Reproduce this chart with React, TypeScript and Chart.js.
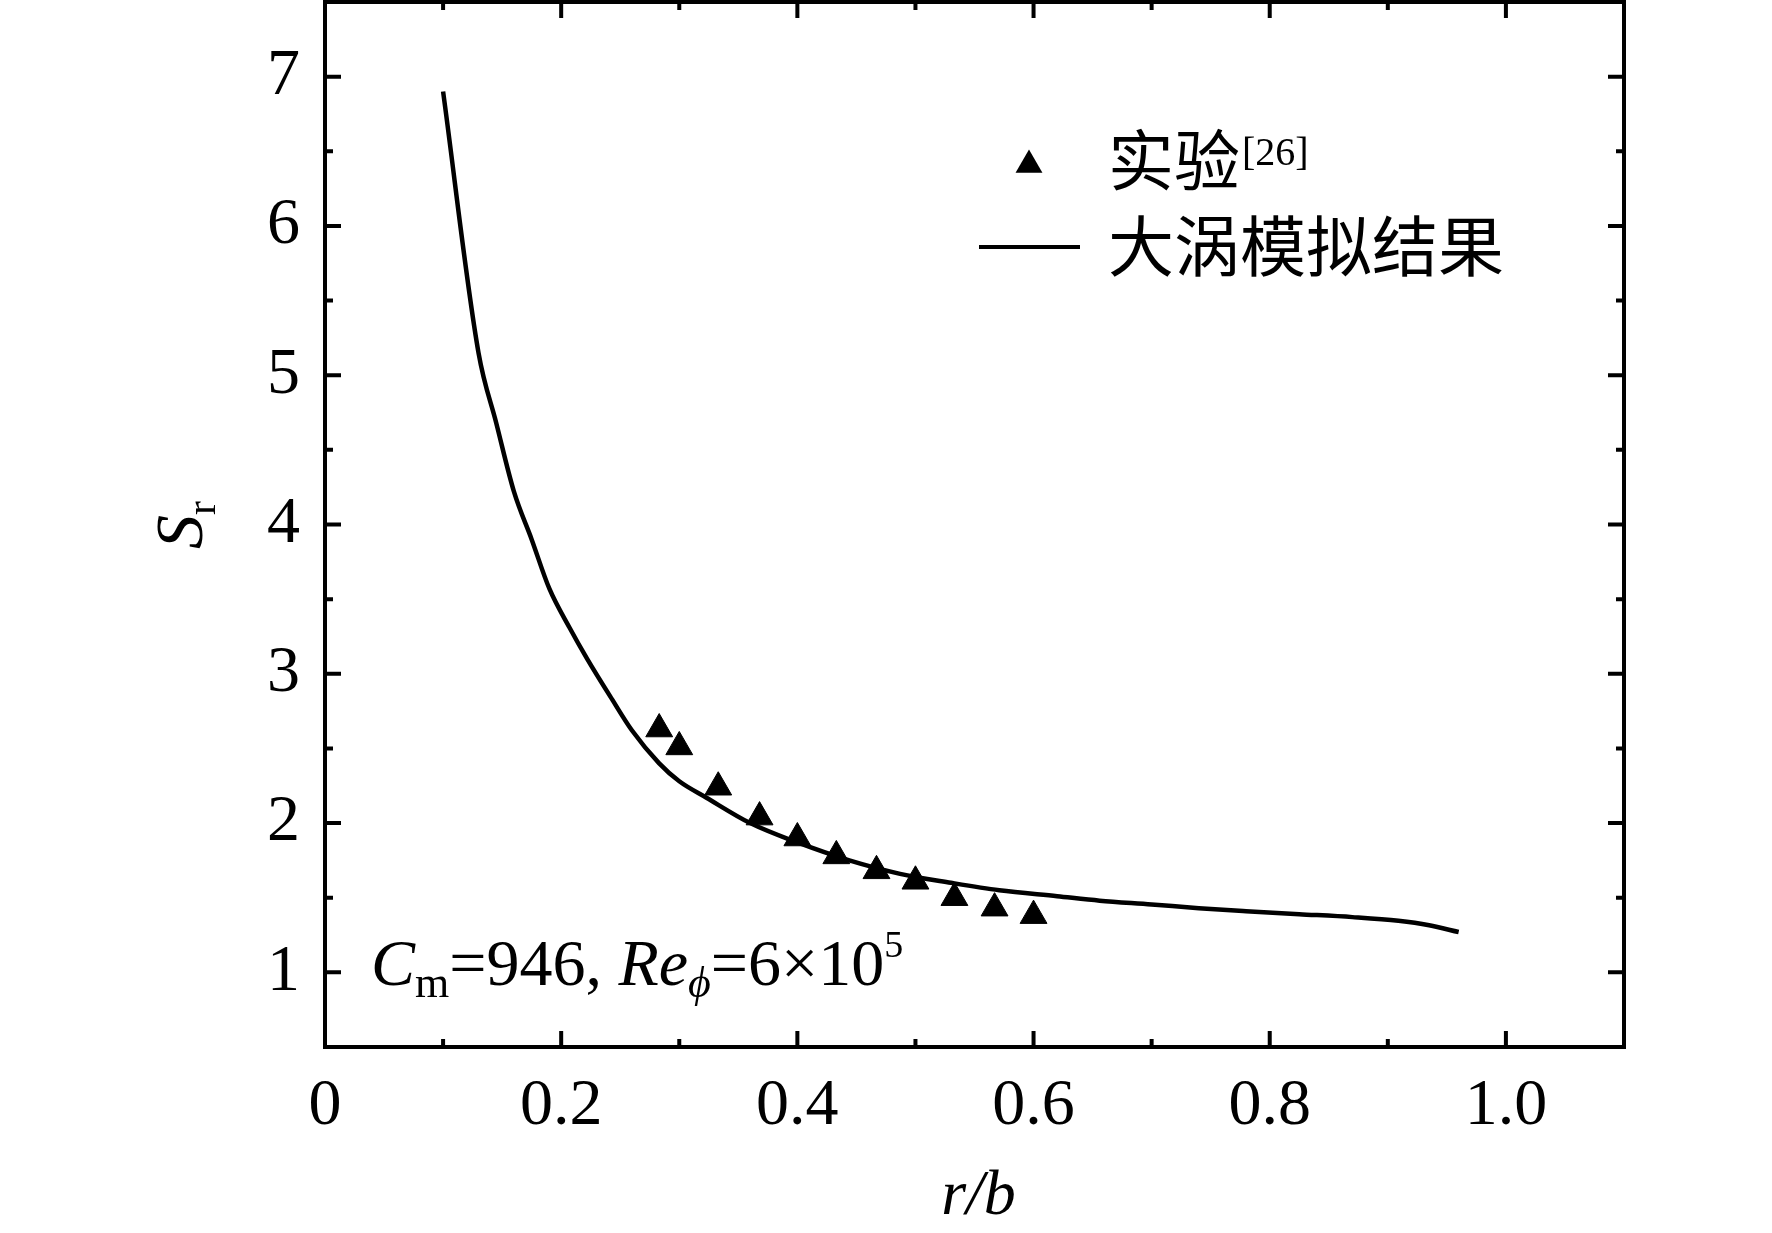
import { useEffect, useRef } from 'react';
import Chart from 'chart.js/auto';

// 大涡模拟结果 (LES curve)
const curveX = [0.1, 0.13, 0.145, 0.16, 0.175, 0.19, 0.207, 0.222, 0.243, 0.26, 0.283, 0.3, 0.323, 0.36, 0.4, 0.444, 0.487, 0.53, 0.571, 0.62, 0.656, 0.7, 0.74, 0.78, 0.825, 0.87, 0.909, 0.935, 0.96];
const curveY = [6.9, 5.15, 4.68, 4.22, 3.9, 3.57, 3.31, 3.1, 2.83, 2.62, 2.4, 2.28, 2.17, 2.0, 1.87, 1.75, 1.66, 1.6, 1.55, 1.51, 1.48, 1.455, 1.43, 1.41, 1.39, 1.37, 1.345, 1.315, 1.27];

// 实验 (experiment)
const expX = [0.283, 0.3, 0.333, 0.368, 0.4, 0.433, 0.467, 0.5, 0.533, 0.567, 0.6];
const expY = [2.63, 2.51, 2.24, 2.04, 1.9, 1.78, 1.68, 1.61, 1.5, 1.43, 1.38];

const xMajorTicks = [0, 0.2, 0.4, 0.6, 0.8, 1.0];
const xMinorTicks = [0.1, 0.3, 0.5, 0.7, 0.9];
const yMajorTicks = [1, 2, 3, 4, 5, 6, 7];
const yMinorTicks = [1.5, 2.5, 3.5, 4.5, 5.5, 6.5];

const seriesLabels = ['实验', '大涡模拟结果'];
const expRef = '[26]';

const SERIF = '"Liberation Serif", "Times New Roman", serif';
const CJK = '"Noto Sans CJK SC", sans-serif';

type Run = { text: string; size: number; italic?: boolean; dy?: number };

function drawRuns(ctx: CanvasRenderingContext2D, x: number, y: number, runs: Run[]) {
	let cx = x;
	for (const r of runs) {
		ctx.font = `${r.italic ? 'italic ' : ''}${r.size}px ${SERIF}`;
		ctx.fillText(r.text, cx, y + (r.dy ?? 0));
		cx += ctx.measureText(r.text).width;
	}
}

function triangle(ctx: CanvasRenderingContext2D, x: number, y: number, r: number) {
	ctx.beginPath();
	for (let i = 0; i < 3; i++) {
		const a = (i * 2 * Math.PI) / 3;
		const px = x + Math.sin(a) * r;
		const py = y - Math.cos(a) * r;
		if (i === 0) ctx.moveTo(px, py);
		else ctx.lineTo(px, py);
	}
	ctx.closePath();
	ctx.fill();
}

const framePlugin = {
	id: 'frameAndText',
	afterDatasetsDraw(chart: Chart) {
		const { ctx, chartArea: a } = chart;
		const x = chart.scales.x;
		const y = chart.scales.y;
		ctx.save();
		ctx.strokeStyle = '#000';
		ctx.fillStyle = '#000';
		ctx.lineWidth = 4;
		ctx.strokeRect(a.left, a.top, a.right - a.left, a.bottom - a.top);

		// inward ticks on all four sides
		const xTick = (v: number, len: number) => {
			const p = x.getPixelForValue(v);
			ctx.beginPath();
			ctx.moveTo(p, a.bottom);
			ctx.lineTo(p, a.bottom - len);
			ctx.moveTo(p, a.top);
			ctx.lineTo(p, a.top + len);
			ctx.stroke();
		};
		const yTick = (v: number, len: number) => {
			const p = y.getPixelForValue(v);
			ctx.beginPath();
			ctx.moveTo(a.left, p);
			ctx.lineTo(a.left + len, p);
			ctx.moveTo(a.right, p);
			ctx.lineTo(a.right - len, p);
			ctx.stroke();
		};
		xMajorTicks.forEach((v) => xTick(v, 16));
		xMinorTicks.forEach((v) => xTick(v, 8));
		yMajorTicks.forEach((v) => yTick(v, 16));
		yMinorTicks.forEach((v) => yTick(v, 8));

		// axis titles
		ctx.textAlign = 'left';
		ctx.textBaseline = 'alphabetic';
		ctx.font = `italic 64px ${SERIF}`;
		const xt = 'r/b';
		const xtw = ctx.measureText(xt).width;
		ctx.fillText(xt, (a.left + a.right) / 2 + 4 - xtw / 2, 1214);

		ctx.save();
		ctx.translate(202, 549);
		ctx.rotate(-Math.PI / 2);
		drawRuns(ctx, 0, 0, [
			{ text: 'S', size: 68, italic: true },
			{ text: 'r', size: 42, dy: 13 },
		]);
		ctx.restore();

		// annotation
		drawRuns(ctx, 371, 985, [
			{ text: 'C', size: 66, italic: true },
			{ text: 'm', size: 44, dy: 12 },
			{ text: '=946, ', size: 66 },
			{ text: 'Re', size: 66, italic: true },
			{ text: 'ϕ', size: 44, italic: true, dy: 12 },
			{ text: '=6×10', size: 66 },
			{ text: '5', size: 38, dy: -28 },
		]);

		// legend
		triangle(ctx, 1029, 165, 15.5);
		ctx.font = `66px ${CJK}`;
		ctx.textBaseline = 'middle';
		ctx.fillText(seriesLabels[0], 1108, 160);
		const w0 = ctx.measureText(seriesLabels[0]).width;
		ctx.fillText(seriesLabels[1], 1108, 246);
		ctx.textBaseline = 'alphabetic';
		ctx.font = `40px ${SERIF}`;
		ctx.fillText(expRef, 1108 + w0 + 2, 165);
		ctx.lineWidth = 4;
		ctx.beginPath();
		ctx.moveTo(979, 247);
		ctx.lineTo(1080, 247);
		ctx.stroke();

		ctx.restore();
	},
};

function SrChart() {
	const chartRef = useRef<HTMLCanvasElement | null>(null);

	useEffect(() => {
		document.body.style.margin = '0';
		if (!chartRef.current) return;

		const chart = new Chart(chartRef.current, {
			type: 'scatter',
			data: {
				datasets: [
					{
						label: seriesLabels[1],
						data: curveX.map((v, i) => ({ x: v, y: curveY[i] })),
						showLine: true,
						borderColor: '#000',
						borderWidth: 4.5,
						pointRadius: 0,
						cubicInterpolationMode: 'monotone',
					},
					{
						label: seriesLabels[0],
						data: expX.map((v, i) => ({ x: v, y: expY[i] })),
						pointStyle: 'triangle',
						pointRadius: 15.5,
						backgroundColor: '#000',
						borderColor: '#000',
						borderWidth: 1,
					},
				],
			},
			options: {
				animation: false,
				responsive: true,
				maintainAspectRatio: false,
				layout: { autoPadding: false, padding: { left: 0, right: 148, top: 2, bottom: 0 } },
				plugins: {
					legend: { display: false },
					tooltip: { enabled: false },
				},
				scales: {
					x: {
						type: 'linear',
						min: 0,
						max: 1.1,
						afterBuildTicks: (s) => {
							s.ticks = xMajorTicks.map((value) => ({ value }));
						},
						afterFit: (s) => {
							s.height = 186;
							s.paddingLeft = 0;
							s.paddingRight = 0;
						},
						grid: { display: false },
						border: { display: false },
						ticks: {
							color: '#000',
							font: { family: SERIF, size: 66 },
							padding: 12,
							maxRotation: 0,
							autoSkip: false,
							callback: (v) => (Number(v) === 0 ? '0' : Number(v).toFixed(1)),
						},
					},
					y: {
						type: 'linear',
						min: 0.5,
						max: 7.5,
						afterBuildTicks: (s) => {
							s.ticks = yMajorTicks.map((value) => ({ value }));
						},
						afterFit: (s) => {
							s.width = 325;
							s.paddingTop = 0;
							s.paddingBottom = 0;
						},
						grid: { display: false },
						border: { display: false },
						ticks: {
							color: '#000',
							font: { family: SERIF, size: 66 },
							padding: 17,
							callback: (v) => String(v),
						},
					},
				},
			},
			plugins: [framePlugin],
		});

		return () => {
			chart.destroy();
		};
	}, []);

	return (
		<div style={{ position: 'relative', width: '1772px', height: '1233px', background: '#fff' }}>
			<canvas ref={chartRef}></canvas>
		</div>
	);
}

export default function App() {
	return <SrChart />;
}
